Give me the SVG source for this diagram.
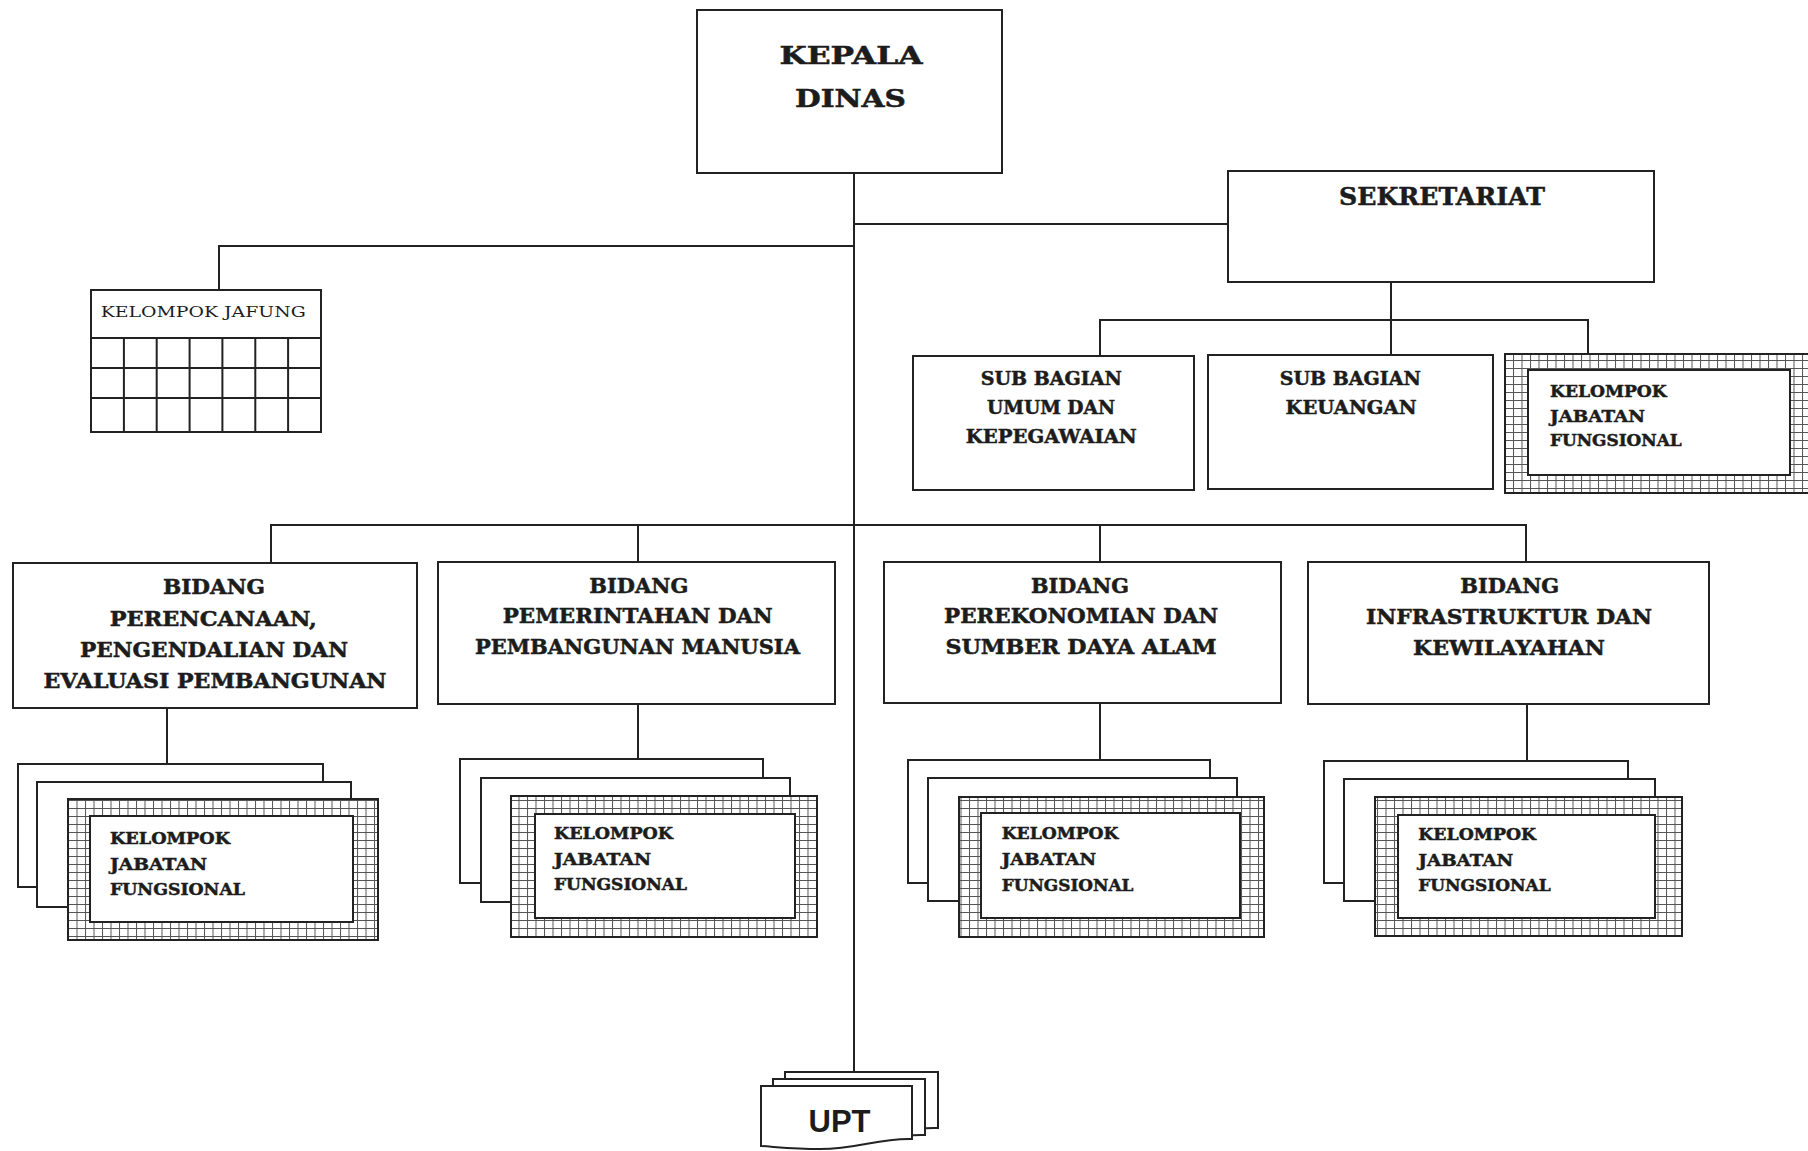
<svg xmlns="http://www.w3.org/2000/svg" width="1808" height="1151" viewBox="0 0 1808 1151">
<style>
.box{fill:#fff;stroke:#222;stroke-width:2}
.ln{stroke:#222;stroke-width:2;fill:none}
.grid{stroke:#222;stroke-width:2;fill:none}
.hat{fill:url(#hatch);stroke:#222;stroke-width:2}
.t{font-family:"DejaVu Serif","Liberation Serif",serif;font-weight:bold;fill:#1c1c1c;stroke:#1c1c1c;stroke-width:0.5}
.c{text-anchor:middle}
.k{font-size:23.5px}
.b{font-size:20px}
.s{font-size:18px}
.j{font-size:16px}
.r{font-family:"DejaVu Serif","Liberation Serif",serif;font-size:15.5px;fill:#1c1c1c}
.u{font-family:"Liberation Sans",Arial,sans-serif;font-weight:bold;font-size:32px;fill:#1c1c1c;text-anchor:middle}
</style>
<defs>
<pattern id="hatch" patternUnits="userSpaceOnUse" width="8.5" height="8">
<rect width="8.5" height="8" fill="#fff"/>
<path d="M0 0.5H8.5M0.5 0V8" stroke="#555" stroke-width="1"/>
</pattern>
</defs>
<rect width="1808" height="1151" fill="#fff"/>

<g id="connectors">
<line class="ln" x1="854" y1="173" x2="854" y2="1072"/>
<line class="ln" x1="854" y1="224" x2="1228" y2="224"/>
<polyline class="ln" points="854,246 219,246 219,290"/>
<line class="ln" x1="1391" y1="282" x2="1391" y2="355"/>
<polyline class="ln" points="1100,356 1100,320 1588,320 1588,354"/>
<polyline class="ln" points="271,563 271,525 1526,525 1526,562"/>
<line class="ln" x1="638" y1="525" x2="638" y2="562"/>
<line class="ln" x1="1100" y1="525" x2="1100" y2="562"/>
<line class="ln" x1="167" y1="708" x2="167" y2="764"/>
<line class="ln" x1="638" y1="704" x2="638" y2="759"/>
<line class="ln" x1="1100" y1="703" x2="1100" y2="760"/>
<line class="ln" x1="1527" y1="704" x2="1527" y2="761"/>
</g>

<g id="kepala-dinas">
<rect class="box" x="697" y="10" width="305" height="163"/>
<text class="t c k" x="851" y="64" textLength="143" lengthAdjust="spacingAndGlyphs">KEPALA</text>
<text class="t c k" x="850.5" y="107" textLength="111" lengthAdjust="spacingAndGlyphs">DINAS</text>
</g>

<g id="sekretariat">
<rect class="box" x="1228" y="171" width="426" height="111"/>
<text class="t c k" x="1442" y="205" textLength="206" lengthAdjust="spacingAndGlyphs">SEKRETARIAT</text>
</g>

<g id="kelompok-jafung">
<rect class="box" x="91" y="290" width="230" height="142"/>
<path class="grid" d="M91 338H321M91 368H321M91 398H321M123.9 338V432M156.7 338V432M189.6 338V432M222.4 338V432M255.3 338V432M288.1 338V432"/>
<text class="r" x="100.7" y="317" textLength="205" lengthAdjust="spacingAndGlyphs">KELOMPOK JAFUNG</text>
</g>

<g id="sub-bagian-umum">
<rect class="box" x="913" y="356" width="281" height="134"/>
<text class="t c s" x="1051.3" y="385" textLength="141" lengthAdjust="spacingAndGlyphs">SUB BAGIAN</text>
<text class="t c s" x="1051" y="414" textLength="128" lengthAdjust="spacingAndGlyphs">UMUM DAN</text>
<text class="t c s" x="1051.3" y="442.7" textLength="171" lengthAdjust="spacingAndGlyphs">KEPEGAWAIAN</text>
</g>

<g id="sub-bagian-keuangan">
<rect class="box" x="1208" y="355" width="285" height="134"/>
<text class="t c s" x="1350.3" y="385" textLength="141" lengthAdjust="spacingAndGlyphs">SUB BAGIAN</text>
<text class="t c s" x="1351" y="414" textLength="131" lengthAdjust="spacingAndGlyphs">KEUANGAN</text>
</g>

<g id="kjf-sekretariat">
<rect class="hat" x="1505" y="354" width="310" height="139"/>
<rect class="box" x="1528" y="370" width="262" height="105"/>
<text class="t j" x="1550" y="397.3" textLength="116.7" lengthAdjust="spacingAndGlyphs">KELOMPOK</text>
<text class="t j" x="1550" y="421.7" textLength="95" lengthAdjust="spacingAndGlyphs">JABATAN</text>
<text class="t j" x="1550" y="446" textLength="131.7" lengthAdjust="spacingAndGlyphs">FUNGSIONAL</text>
</g>

<g id="bidang-perencanaan">
<rect class="box" x="13" y="563" width="404" height="145"/>
<text class="t c b" x="214" y="594.3" textLength="102" lengthAdjust="spacingAndGlyphs">BIDANG</text>
<text class="t c b" x="213.3" y="626" textLength="207" lengthAdjust="spacingAndGlyphs">PERENCANAAN,</text>
<text class="t c b" x="214" y="656.7" textLength="268" lengthAdjust="spacingAndGlyphs">PENGENDALIAN DAN</text>
<text class="t c b" x="215" y="687.7" textLength="343" lengthAdjust="spacingAndGlyphs">EVALUASI PEMBANGUNAN</text>
</g>

<g id="bidang-pemerintahan">
<rect class="box" x="438" y="562" width="397" height="142"/>
<text class="t c b" x="638.8" y="592.7" textLength="99" lengthAdjust="spacingAndGlyphs">BIDANG</text>
<text class="t c b" x="637.7" y="623.3" textLength="270" lengthAdjust="spacingAndGlyphs">PEMERINTAHAN DAN</text>
<text class="t c b" x="637.5" y="654.3" textLength="325" lengthAdjust="spacingAndGlyphs">PEMBANGUNAN MANUSIA</text>
</g>

<g id="bidang-perekonomian">
<rect class="box" x="884" y="562" width="397" height="141"/>
<text class="t c b" x="1080" y="592.7" textLength="98" lengthAdjust="spacingAndGlyphs">BIDANG</text>
<text class="t c b" x="1081" y="623.3" textLength="274" lengthAdjust="spacingAndGlyphs">PEREKONOMIAN DAN</text>
<text class="t c b" x="1081" y="654.3" textLength="271" lengthAdjust="spacingAndGlyphs">SUMBER DAYA ALAM</text>
</g>

<g id="bidang-infrastruktur">
<rect class="box" x="1308" y="562" width="401" height="142"/>
<text class="t c b" x="1509.7" y="592.7" textLength="99" lengthAdjust="spacingAndGlyphs">BIDANG</text>
<text class="t c b" x="1509" y="624" textLength="286" lengthAdjust="spacingAndGlyphs">INFRASTRUKTUR DAN</text>
<text class="t c b" x="1509" y="655" textLength="192" lengthAdjust="spacingAndGlyphs">KEWILAYAHAN</text>
</g>

<g id="kjf-perencanaan">
<rect class="box" x="18" y="764" width="305" height="123"/>
<rect class="box" x="37" y="782" width="314" height="125"/>
<rect class="hat" x="68" y="799" width="310" height="141"/>
<rect class="box" x="90" y="816" width="263" height="106"/>
<text class="t j" x="110" y="844" textLength="120" lengthAdjust="spacingAndGlyphs">KELOMPOK</text>
<text class="t j" x="110" y="870" textLength="97" lengthAdjust="spacingAndGlyphs">JABATAN</text>
<text class="t j" x="110" y="895" textLength="135" lengthAdjust="spacingAndGlyphs">FUNGSIONAL</text>
</g>

<g id="kjf-pemerintahan">
<rect class="box" x="460" y="759" width="303" height="124"/>
<rect class="box" x="481" y="778" width="309" height="124"/>
<rect class="hat" x="511" y="796" width="306" height="141"/>
<rect class="box" x="535" y="814" width="260" height="104"/>
<text class="t j" x="554" y="839.3" textLength="119" lengthAdjust="spacingAndGlyphs">KELOMPOK</text>
<text class="t j" x="554" y="865" textLength="97" lengthAdjust="spacingAndGlyphs">JABATAN</text>
<text class="t j" x="554" y="890" textLength="133" lengthAdjust="spacingAndGlyphs">FUNGSIONAL</text>
</g>

<g id="kjf-perekonomian">
<rect class="box" x="908" y="760" width="302" height="123"/>
<rect class="box" x="928" y="778" width="309" height="123"/>
<rect class="hat" x="959" y="797" width="305" height="140"/>
<rect class="box" x="981" y="813" width="259" height="105"/>
<text class="t j" x="1001.7" y="839.3" textLength="116.7" lengthAdjust="spacingAndGlyphs">KELOMPOK</text>
<text class="t j" x="1001.7" y="865" textLength="94.3" lengthAdjust="spacingAndGlyphs">JABATAN</text>
<text class="t j" x="1001.7" y="890.7" textLength="131.7" lengthAdjust="spacingAndGlyphs">FUNGSIONAL</text>
</g>

<g id="kjf-infrastruktur">
<rect class="box" x="1324" y="761" width="304" height="122"/>
<rect class="box" x="1344" y="779" width="311" height="122"/>
<rect class="hat" x="1375" y="797" width="307" height="139"/>
<rect class="box" x="1398" y="815" width="257" height="103"/>
<text class="t j" x="1418.3" y="840" textLength="117.7" lengthAdjust="spacingAndGlyphs">KELOMPOK</text>
<text class="t j" x="1418.3" y="866" textLength="95" lengthAdjust="spacingAndGlyphs">JABATAN</text>
<text class="t j" x="1418.3" y="890.7" textLength="132.3" lengthAdjust="spacingAndGlyphs">FUNGSIONAL</text>
</g>

<g id="upt">
<path class="box" d="M785 1072H938V1128C905 1127 885 1136 850 1136C820 1136 800 1133 785 1133Z"/>
<path class="box" d="M773 1079H925V1135C892 1134 872 1143 837 1143C807 1143 788 1140 773 1140Z"/>
<path class="box" d="M761 1086H912V1139C878 1138 858 1149 820 1149C795 1149 777 1147 761 1146Z"/>
<text class="u" x="839.5" y="1131.7" textLength="62" lengthAdjust="spacingAndGlyphs">UPT</text>
</g>
</svg>
